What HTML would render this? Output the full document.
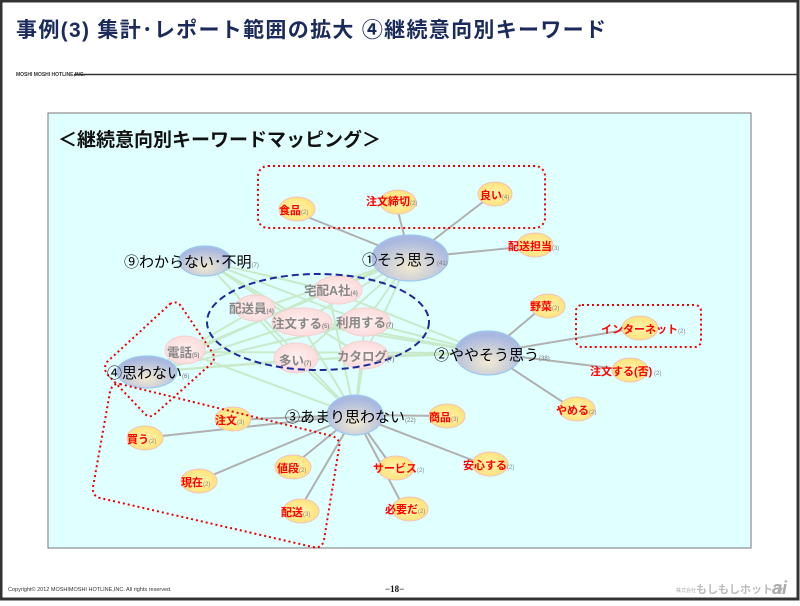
<!DOCTYPE html>
<html><head><meta charset="utf-8"><style>
html,body{margin:0;padding:0;background:#fff}
body{width:800px;height:601px;overflow:hidden;position:relative;font-family:"Liberation Sans","Noto Sans CJK JP",sans-serif}
</style></head><body>
<svg width="800" height="601" viewBox="0 0 800 601" xmlns="http://www.w3.org/2000/svg" font-family="Liberation Sans, Noto Sans CJK JP, sans-serif">
<defs>
<radialGradient id="bl" cx="50%" cy="70%" r="60%"><stop offset="0" stop-color="#f3ead0"/><stop offset="1" stop-color="#a8b8e0"/></radialGradient>
<radialGradient id="ye" cx="50%" cy="50%" r="60%"><stop offset="0" stop-color="#fff4b0"/><stop offset="1" stop-color="#ffe070"/></radialGradient>
<radialGradient id="pk" cx="50%" cy="50%" r="60%"><stop offset="0" stop-color="#fff0f0"/><stop offset="1" stop-color="#fbd8d8"/></radialGradient>
</defs>
<rect x="0" y="0" width="800" height="601" fill="#fff"/>
<rect x="1" y="1" width="797" height="598" fill="none" stroke="#333" stroke-width="3"/>
<text x="16" y="37" font-size="21" font-weight="bold" fill="#1a2a5a" textLength="590" lengthAdjust="spacing">事例(3)  集計･レポート範囲の拡大  ④継続意向別キーワード</text>
<text x="16" y="76" font-size="5" font-weight="bold" fill="#333">MOSHI MOSHI HOTLINE,INC.</text>
<line x1="74" y1="74.5" x2="798" y2="74.5" stroke="#333" stroke-width="1.5"/>
<rect x="48" y="113" width="703" height="435" fill="#e0ffff" stroke="#777" stroke-width="1"/>
<text x="58" y="146" font-size="19" font-weight="bold" fill="#111">＜継続意向別キーワードマッピング＞</text>
<g stroke="#c4e6bc" stroke-width="2" opacity="0.8">
<line x1="410" y1="258" x2="328" y2="290"/><line x1="410" y1="258" x2="255" y2="310"/><line x1="410" y1="258" x2="300" y2="323"/><line x1="410" y1="258" x2="365" y2="322"/><line x1="410" y1="258" x2="296" y2="360"/><line x1="410" y1="258" x2="364" y2="356"/><line x1="410" y1="258" x2="185" y2="352"/>
<line x1="488" y1="353" x2="328" y2="290"/><line x1="488" y1="353" x2="255" y2="310"/><line x1="488" y1="353" x2="300" y2="323"/><line x1="488" y1="353" x2="365" y2="322"/><line x1="488" y1="353" x2="296" y2="360"/><line x1="488" y1="353" x2="364" y2="356"/><line x1="488" y1="353" x2="185" y2="352"/>
<line x1="355" y1="415" x2="328" y2="290"/><line x1="355" y1="415" x2="255" y2="310"/><line x1="355" y1="415" x2="300" y2="323"/><line x1="355" y1="415" x2="365" y2="322"/><line x1="355" y1="415" x2="296" y2="360"/><line x1="355" y1="415" x2="364" y2="356"/><line x1="355" y1="415" x2="185" y2="352"/>
<line x1="147" y1="372" x2="328" y2="290"/><line x1="147" y1="372" x2="255" y2="310"/><line x1="147" y1="372" x2="300" y2="323"/><line x1="147" y1="372" x2="365" y2="322"/><line x1="147" y1="372" x2="296" y2="360"/><line x1="147" y1="372" x2="364" y2="356"/>
<line x1="205" y1="261" x2="328" y2="290"/><line x1="205" y1="261" x2="300" y2="323"/><line x1="205" y1="261" x2="365" y2="322"/><line x1="205" y1="261" x2="296" y2="360"/><line x1="205" y1="261" x2="364" y2="356"/>
</g>
<g stroke="#b0b0b0" stroke-width="2">
<line x1="410" y1="258" x2="290" y2="210"/><line x1="410" y1="258" x2="395" y2="200"/><line x1="410" y1="258" x2="492" y2="195"/><line x1="410" y1="258" x2="532" y2="246"/>
<line x1="488" y1="353" x2="545" y2="305"/><line x1="488" y1="353" x2="637" y2="328"/><line x1="488" y1="353" x2="627" y2="370"/><line x1="488" y1="353" x2="575" y2="410"/>
<line x1="355" y1="415" x2="445" y2="416"/><line x1="355" y1="415" x2="485" y2="465"/><line x1="355" y1="415" x2="393" y2="468"/><line x1="355" y1="415" x2="405" y2="510"/><line x1="355" y1="415" x2="290" y2="468"/><line x1="355" y1="415" x2="298" y2="512"/><line x1="355" y1="415" x2="196" y2="482"/><line x1="355" y1="415" x2="143" y2="438"/><line x1="355" y1="415" x2="230" y2="420"/>
</g>
<g fill="url(#bl)" stroke="#9cc8f0" stroke-width="1.2">
<ellipse cx="410" cy="258" rx="38" ry="23"/><ellipse cx="488" cy="353" rx="33" ry="22"/><ellipse cx="355" cy="415" rx="28" ry="20"/><ellipse cx="147" cy="372" rx="30" ry="16"/><ellipse cx="205" cy="261" rx="26" ry="15"/>
</g>
<g fill="url(#pk)" stroke="#f4d0d0" stroke-width="1">
<ellipse cx="338" cy="290" rx="24" ry="14"/><ellipse cx="255" cy="308" rx="20" ry="13"/><ellipse cx="302" cy="322" rx="30" ry="14"/><ellipse cx="365" cy="322" rx="25" ry="14"/><ellipse cx="296" cy="358" rx="22" ry="15"/><ellipse cx="364" cy="355" rx="24" ry="14"/><ellipse cx="185" cy="350" rx="20" ry="14"/>
</g>
<g fill="url(#ye)" stroke="#f4c0c0" stroke-width="1">
<ellipse cx="297" cy="209" rx="18" ry="12"/><ellipse cx="398" cy="202" rx="18" ry="12"/><ellipse cx="495" cy="194" rx="17" ry="12"/><ellipse cx="535" cy="245" rx="18" ry="12"/><ellipse cx="548" cy="306" rx="17" ry="12"/><ellipse cx="640" cy="328" rx="18" ry="12"/><ellipse cx="630" cy="370" rx="18" ry="12"/><ellipse cx="577" cy="409" rx="18" ry="12"/><ellipse cx="447" cy="416" rx="18" ry="12"/><ellipse cx="490" cy="464" rx="18" ry="12"/><ellipse cx="396" cy="468" rx="18" ry="12"/><ellipse cx="410" cy="509" rx="18" ry="12"/><ellipse cx="293" cy="467" rx="18" ry="12"/><ellipse cx="301" cy="511" rx="18" ry="12"/><ellipse cx="199" cy="481" rx="18" ry="12"/><ellipse cx="145" cy="438" rx="18" ry="12"/><ellipse cx="233" cy="419" rx="18" ry="12"/>
</g>
<g fill="none" stroke="#e00" stroke-width="2" stroke-dasharray="2,3">
<rect x="258" y="166" width="287" height="62" rx="10"/>
<rect x="576" y="305" width="125" height="42" rx="6"/>
<path d="M170 304 Q176 300 181 306 L212 352 Q216 358 212 363 L155 414 Q149 419 144 413 L107 374 Q103 368 107 362 Z"/>
<path d="M120 384 L332 436 Q341 439 339 448 L324 540 Q322 549 313 547 L100 498 Q92 496 93 487 L110 392 Q112 383 120 384 Z"/>
</g>
<ellipse cx="318" cy="322" rx="111" ry="48" fill="none" stroke="#1a2aa0" stroke-width="2" stroke-dasharray="7,4"/>
<g font-size="15" fill="#000">
<text x="362" y="265">①そう思う<tspan font-size="6" fill="#777">(41)</tspan></text>
<text x="434" y="360">②ややそう思う<tspan font-size="6" fill="#777">(38)</tspan></text>
<text x="285" y="422">③あまり思わない<tspan font-size="6" fill="#777">(22)</tspan></text>
<text x="107" y="378">④思わない<tspan font-size="6" fill="#777">(6)</tspan></text>
<text x="124" y="267">⑨わからない･不明<tspan font-size="6" fill="#777">(7)</tspan></text>
</g>
<g font-size="12.5" font-weight="bold" fill="#888">
<text x="304" y="295">宅配A社<tspan font-size="6">(4)</tspan></text>
<text x="229" y="313">配送員<tspan font-size="6">(4)</tspan></text>
<text x="272" y="328">注文する<tspan font-size="6">(5)</tspan></text>
<text x="336" y="327">利用する<tspan font-size="6">(7)</tspan></text>
<text x="279" y="365">多い<tspan font-size="6">(7)</tspan></text>
<text x="337" y="361">カタログ<tspan font-size="6">(7)</tspan></text>
<text x="167" y="357">電話<tspan font-size="6">(5)</tspan></text>
</g>
<g font-size="11" font-weight="bold" fill="#f00">
<text x="279" y="214">食品<tspan font-size="6" fill="#888" font-weight="normal">(2)</tspan></text>
<text x="366" y="205">注文締切<tspan font-size="6" fill="#888" font-weight="normal">(2)</tspan></text>
<text x="480" y="199">良い<tspan font-size="6" fill="#888" font-weight="normal">(4)</tspan></text>
<text x="508" y="250">配送担当<tspan font-size="6" fill="#888" font-weight="normal">(3)</tspan></text>
<text x="530" y="310">野菜<tspan font-size="6" fill="#888" font-weight="normal">(2)</tspan></text>
<text x="601" y="333">インターネット<tspan font-size="6" fill="#888" font-weight="normal">(2)</tspan></text>
<text x="590" y="375">注文する(否)<tspan font-size="6" fill="#888" font-weight="normal"> (2)</tspan></text>
<text x="556" y="414">やめる<tspan font-size="6" fill="#888" font-weight="normal">(2)</tspan></text>
<text x="429" y="421">商品<tspan font-size="6" fill="#888" font-weight="normal">(3)</tspan></text>
<text x="463" y="469">安心する<tspan font-size="6" fill="#888" font-weight="normal">(2)</tspan></text>
<text x="373" y="472">サービス<tspan font-size="6" fill="#888" font-weight="normal">(2)</tspan></text>
<text x="385" y="513">必要だ<tspan font-size="6" fill="#888" font-weight="normal">(2)</tspan></text>
<text x="277" y="472">値段<tspan font-size="6" fill="#888" font-weight="normal">(2)</tspan></text>
<text x="281" y="516">配送<tspan font-size="6" fill="#888" font-weight="normal">(3)</tspan></text>
<text x="181" y="486">現在<tspan font-size="6" fill="#888" font-weight="normal">(2)</tspan></text>
<text x="127" y="443">買う<tspan font-size="6" fill="#888" font-weight="normal">(2)</tspan></text>
<text x="215" y="424">注文<tspan font-size="6" fill="#888" font-weight="normal">(3)</tspan></text>
</g>
<text x="8" y="591" font-size="5.5" fill="#333">Copyright© 2012 MOSHIMOSHI HOTLINE,INC. All rights reserved.</text>
<text x="385" y="592" font-size="9" font-weight="bold" fill="#111" font-family="Liberation Serif, serif">−18−</text>
<text x="676" y="592" font-size="5" fill="#aaa">株式会社</text>
<text x="696" y="593" font-size="11" font-weight="bold" fill="#bbb">もしもしホットラ</text>
<text x="772" y="594" font-size="18" font-weight="bold" font-style="italic" fill="#aaa">ai</text>
</svg>
</body></html>
